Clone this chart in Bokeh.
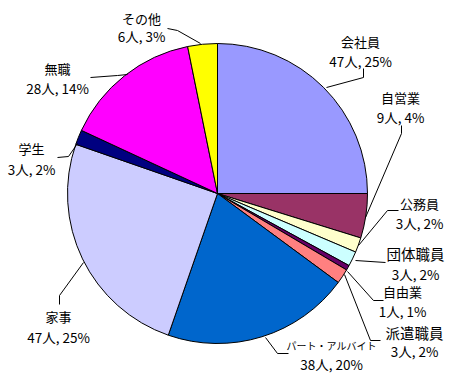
import math
from bokeh.plotting import figure
from bokeh.models import Range1d
from bokeh.core.properties import value
from bokeh.embed import file_html
from bokeh.resources import INLINE

# ---- data ----
categories = ["会社員", "自営業", "公務員", "団体職員", "自由業", "派遣職員",
              "パート・アルバイト", "家事", "学生", "無職", "その他"]
counts = [47, 9, 3, 3, 1, 3, 38, 47, 3, 28, 6]
percent_labels = [25, 4, 2, 2, 1, 2, 20, 25, 2, 14, 3]

# ---- styles ----
colors = ["#9999FF", "#993366", "#FFFFCC", "#CCFFFF", "#660066", "#FF8080",
          "#0066CC", "#CCCCFF", "#000080", "#FF00FF", "#FFFF00"]

# ---- layout (reference image pixel coords, y downward) ----
IMG_W, IMG_H = 450, 389
cx, cy, R = 217, 193, 150
label_pos = [(360, 41), (400, 97), (419, 203), (415, 253), (402, 291), (414, 332),
             (331, 345), (58, 316), (31, 148), (57, 68), (141, 18)]
line2_dy = [19, 19, 19, 20, 19, 18, 18, 20, 20, 19, 17]
label_size = ["13px", "13px", "13px", "14.5px", "13px", "14.5px",
              "10px", "13px", "13px", "13px", "13px"]
leaders = [
    [(363, 68), (363, 77), (326, 87)],
    [(401, 125), (401, 133), (365, 217)],
    [(398, 210), (387, 210), (358, 245)],
    [(385, 262), (355, 260)],
    [(383, 300), (373, 300), (347, 271)],
    [(380, 340), (370, 340), (344, 274)],
    [(288, 353), (277, 353), (265, 337)],
    [(59, 304), (59, 295), (83, 262)],
    [(57, 157), (68, 156), (77, 143)],
    [(90, 77), (117, 75), (127, 74)],
    [(167, 28), (177, 30), (200, 43)],
]

def Y(y):
    return IMG_H - y

p = figure(width=IMG_W, height=IMG_H, x_range=Range1d(0, IMG_W), y_range=Range1d(0, IMG_H),
           toolbar_location=None, output_backend="svg", min_border=0,
           x_axis_location=None, y_axis_location=None)
p.grid.visible = False
p.outline_line_color = None
p.background_fill_color = "white"

total = sum(counts)
starts, ends = [], []
cum = 0
for c in counts:
    starts.append(math.pi / 2 - 2 * math.pi * cum / total)
    cum += c
    ends.append(math.pi / 2 - 2 * math.pi * cum / total)

p.wedge(x=cx, y=Y(cy), radius=R, start_angle=starts, end_angle=ends,
        direction="clock", fill_color=colors, line_color="black", line_width=1)

p.multi_line(xs=[[pt[0] for pt in l] for l in leaders],
             ys=[[Y(pt[1]) for pt in l] for l in leaders],
             line_color="black", line_width=1)

font = value("Noto Sans CJK JP")
for i, name in enumerate(categories):
    x, y = label_pos[i]
    p.text(x=[x], y=[Y(y)], text=[name], text_font=font, text_font_size=label_size[i],
           text_align="center", text_baseline="middle", text_color="black")
    p.text(x=[x], y=[Y(y + line2_dy[i])], text=[f"{counts[i]}人, {percent_labels[i]}%"],
           text_font=font, text_font_size="13.5px",
           text_align="center", text_baseline="middle", text_color="black")

open("out.html", "w").write(file_html(p, INLINE))
